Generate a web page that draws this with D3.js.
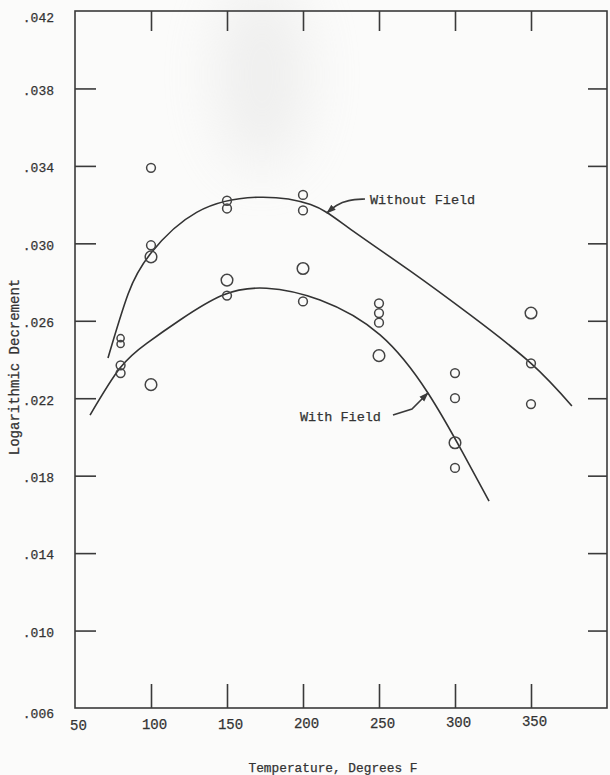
<!DOCTYPE html>
<html>
<head>
<meta charset="utf-8">
<script src="https://cdn.jsdelivr.net/npm/d3@7/dist/d3.min.js"></script>
<style>
  html, body { margin: 0; padding: 0; background: #fbfbfa; }
  svg { display: block; }
  text { font-family: "Liberation Mono", "DejaVu Sans Mono", monospace; fill: #333; stroke: #333; stroke-width: 0.25; }
</style>
</head>
<body>
<script>
// ---------- data ----------
const xTickValues = [50, 100, 150, 200, 250, 300, 350];
const xTickLabels = ["50", "100", "150", "200", "250", "300", "350"];
const xInnerTicks = [100, 150, 200, 250, 300, 350];
const yTickValues = [0.006, 0.010, 0.014, 0.018, 0.022, 0.026, 0.030, 0.034, 0.038, 0.042];
const yTickLabels = [".006", ".010", ".014", ".018", ".022", ".026", ".030", ".034", ".038", ".042"];
const yInnerTicks = [0.010, 0.014, 0.018, 0.022, 0.026, 0.030, 0.034, 0.038];

// measured points (temperature, logarithmic decrement, marker kind)
const pointTemps = [80, 80, 80, 80, 100, 100, 100, 100, 150, 150, 150, 150, 200, 200, 200, 200,
                    250, 250, 250, 250, 300, 300, 300, 300, 350, 350, 350];
const pointDecrements = [0.0251, 0.0248, 0.0237, 0.0233, 0.0339, 0.0299, 0.0293, 0.0227,
                         0.0322, 0.0318, 0.0281, 0.0273, 0.0325, 0.0317, 0.0287, 0.0270,
                         0.0269, 0.0264, 0.0259, 0.0242, 0.0233, 0.0220, 0.0197, 0.0184,
                         0.0264, 0.0238, 0.0217];
const pointKinds = ["s", "s", "o", "o", "o", "o", "O", "O", "o", "o", "O", "o", "o", "o", "O", "o",
                    "o", "o", "o", "O", "o", "o", "O", "o", "O", "o", "o"];

// fitted curves
const withoutFieldTemps = [71.7, 85, 100, 130, 170, 205, 230, 270, 310, 350, 376.9];
const withoutFieldValues = [0.02408, 0.0274, 0.0295, 0.0316, 0.03238, 0.0320, 0.0308, 0.0286, 0.0263, 0.0238, 0.0216];
const withFieldTemps = [59.9, 79.6, 97.4, 119.1, 147.4, 176, 211.2, 250.7, 282.2, 305, 322.4];
const withFieldValues = [0.02113, 0.02356, 0.02485, 0.02604, 0.02733, 0.02768, 0.02707, 0.02527, 0.02227, 0.0192, 0.01669];

// annotation labels and leader lines (data coordinates)
const labelWithout = { text: "Without Field", t: 244, v: 0.03203 };
const arrowWithoutTemps = [240.8, 229.6, 221.7, 215.8];
const arrowWithoutValues = [0.03229, 0.03224, 0.03198, 0.03157];
const labelWith = { text: "With Field", t: 198, v: 0.02082 };
const arrowWithTemps = [259.2, 271.7, 282.2];
const arrowWithValues = [0.02113, 0.02144, 0.02227];

const xTitle = "Temperature, Degrees F";
const yTitle = "Logarithmic Decrement";

// ---------- layout ----------
const W = 610, H = 775;
const x = d3.scaleLinear().domain([50, 400]).range([75, 607]);
const y = d3.scaleLinear().domain([0.006, 0.042]).range([708, 11]);
const ink = "#3a3a3a";

const svg = d3.select("body").append("svg").attr("width", W).attr("height", H);

// faint scan smudge
const defs = svg.append("defs");
defs.append("filter").attr("id", "blur").attr("x", "-80%").attr("y", "-80%").attr("width", "260%").attr("height", "260%")
  .append("feGaussianBlur").attr("stdDeviation", 28);
svg.append("ellipse").attr("cx", 262).attr("cy", 75).attr("rx", 45).attr("ry", 95)
  .attr("fill", "#dcdcdc").attr("opacity", 0.4).attr("filter", "url(#blur)");

defs.append("marker").attr("id", "ah").attr("viewBox", "0 0 10 10").attr("refX", 9).attr("refY", 5)
  .attr("markerWidth", 6).attr("markerHeight", 6).attr("orient", "auto")
  .append("path").attr("d", "M0,1.5 L10,5 L0,8.5 Z").attr("fill", ink);

// frame
svg.append("rect")
  .attr("x", x(50)).attr("y", y(0.042))
  .attr("width", x(400) - x(50)).attr("height", y(0.006) - y(0.042))
  .attr("fill", "none").attr("stroke", ink).attr("stroke-width", 1.6);

function styleAxis(g) {
  g.select(".domain").remove();
  g.selectAll("line").attr("stroke", ink).attr("stroke-width", 1.6);
  g.selectAll("text").attr("font-family", "Liberation Mono, monospace").attr("fill", "#333");
}

// inner ticks
svg.append("g").attr("transform", `translate(0,${y(0.006)})`)
  .call(d3.axisBottom(x).tickValues(xInnerTicks).tickSize(-24).tickSizeOuter(0).tickFormat(""))
  .call(styleAxis);
svg.append("g").attr("transform", `translate(0,${y(0.042)})`)
  .call(d3.axisTop(x).tickValues(xInnerTicks).tickSize(-20).tickSizeOuter(0).tickFormat(""))
  .call(styleAxis);
svg.append("g").attr("transform", `translate(${x(50)},0)`)
  .call(d3.axisLeft(y).tickValues(yInnerTicks).tickSize(-21).tickSizeOuter(0).tickFormat(""))
  .call(styleAxis);
svg.append("g").attr("transform", `translate(${x(400)},0)`)
  .call(d3.axisRight(y).tickValues(yInnerTicks).tickSize(-19).tickSizeOuter(0).tickFormat(""))
  .call(styleAxis);

// tick labels
svg.append("g").attr("transform", `translate(${x(50)},0)`)
  .call(d3.axisLeft(y).tickValues(yTickValues).tickSize(0).tickPadding(21)
    .tickFormat((d, i) => yTickLabels[i]))
  .call(styleAxis)
  .call(g => g.selectAll("text").attr("font-size", 13).attr("dy", "0.45em")
    .attr("transform", d => d === 0.042 ? "translate(0,5)" : (d === 0.006 ? "translate(0,4)" : null)));
svg.append("g").attr("transform", `translate(0,${y(0.006)})`)
  .call(d3.axisBottom(x).tickValues(xTickValues).tickSize(0).tickPadding(12)
    .tickFormat((d, i) => xTickLabels[i]))
  .call(styleAxis)
  .call(g => g.selectAll("text").attr("font-size", 14)
    .attr("transform", d => `translate(3,${-0.012 * (d - 50)})`));

// axis titles
svg.append("text").attr("x", 333).attr("y", 772).attr("text-anchor", "middle")
  .attr("font-size", 12.8).text(xTitle);
svg.append("text").attr("transform", `translate(19,367) rotate(-90)`).attr("text-anchor", "middle")
  .attr("font-size", 14).text(yTitle);

// curves
const line = d3.line().x(d => x(d[0])).y(d => y(d[1])).curve(d3.curveNatural);
svg.append("path").datum(withoutFieldTemps.map((t, i) => [t, withoutFieldValues[i]]))
  .attr("d", line).attr("fill", "none").attr("stroke", "#333").attr("stroke-width", 1.6);
svg.append("path").datum(withFieldTemps.map((t, i) => [t, withFieldValues[i]]))
  .attr("d", line).attr("fill", "none").attr("stroke", "#333").attr("stroke-width", 1.6);

// points
const radius = { s: 3.6, o: 4.4, O: 5.8 };
svg.append("g").selectAll("circle")
  .data(pointTemps.map((t, i) => ({ t, v: pointDecrements[i], k: pointKinds[i] })))
  .join("circle")
  .attr("cx", d => x(d.t)).attr("cy", d => y(d.v)).attr("r", d => radius[d.k])
  .attr("fill", "none").attr("stroke", "#444").attr("stroke-width", 1.5);

// annotations
svg.append("text").attr("x", x(labelWithout.t)).attr("y", y(labelWithout.v))
  .attr("font-size", 13.5).text(labelWithout.text);
svg.append("path").datum(arrowWithoutTemps.map((t, i) => [t, arrowWithoutValues[i]]))
  .attr("d", d3.line().x(d => x(d[0])).y(d => y(d[1])).curve(d3.curveBasis))
  .attr("fill", "none").attr("stroke", ink).attr("stroke-width", 1.6).attr("marker-end", "url(#ah)");

svg.append("text").attr("x", x(labelWith.t)).attr("y", y(labelWith.v))
  .attr("font-size", 13.5).text(labelWith.text);
svg.append("path").datum(arrowWithTemps.map((t, i) => [t, arrowWithValues[i]]))
  .attr("d", d3.line().x(d => x(d[0])).y(d => y(d[1])))
  .attr("fill", "none").attr("stroke", ink).attr("stroke-width", 1.6).attr("marker-end", "url(#ah)");
</script>
</body>
</html>
